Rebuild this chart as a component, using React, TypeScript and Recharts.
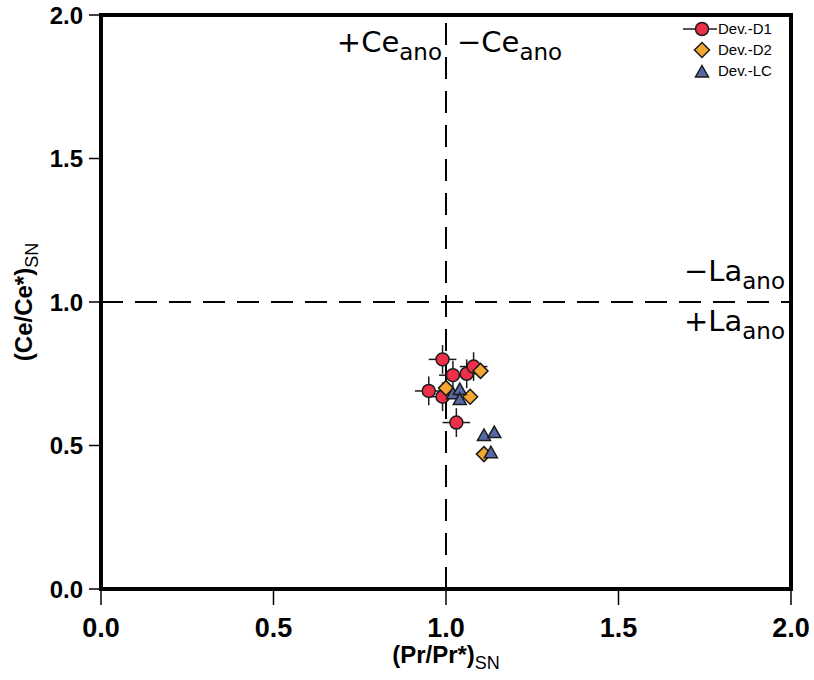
import React from 'react';
import {
  ScatterChart,
  Scatter,
  XAxis,
  YAxis,
  ReferenceLine,
  ReferenceArea,
  ReferenceDot,
  ErrorBar,
} from 'recharts';

// Dev.-D1 (with error bars)
const D1_PR = [0.99, 1.02, 1.06, 1.08, 0.95, 0.99, 1.03];
const D1_CE = [0.8, 0.745, 0.75, 0.775, 0.69, 0.67, 0.58];
const D1_PR_ERR = [0.04, 0.04, 0.04, 0.04, 0.04, 0.04, 0.04];
const D1_CE_ERR = [0.05, 0.05, 0.05, 0.05, 0.05, 0.05, 0.05];

// Dev.-D2
const D2_PR = [1.1, 1.0, 1.07, 1.11];
const D2_CE = [0.76, 0.7, 0.67, 0.47];

// Dev.-LC
const LC_PR = [1.02, 1.04, 1.04, 1.11, 1.14, 1.13];
const LC_CE = [0.68, 0.695, 0.66, 0.535, 0.545, 0.475];

const TICKS = [0, 0.5, 1, 1.5, 2];
const CE_LABEL_Y = 1.87;

const RED = '#EE2F48';
const ORANGE = '#F5A630';
const BLUE = '#5668A6';
const EDGE = '#1c1c1c';

const AXIS_FONT = "'Liberation Sans', Arial, sans-serif";
const NOTE_FONT = "'DejaVu Sans', sans-serif";

const d1 = D1_PR.map((x, i) => ({ x, y: D1_CE[i], ex: D1_PR_ERR[i], ey: D1_CE_ERR[i] }));
const d2 = D2_PR.map((x, i) => ({ x, y: D2_CE[i] }));
const lc = LC_PR.map((x, i) => ({ x, y: LC_CE[i] }));

const Circle = (p: any) => (
  <circle cx={p.cx} cy={p.cy} r={6.5} fill={RED} stroke={EDGE} strokeWidth={1.5} />
);
const Diamond = (p: any) => (
  <polygon
    points={`${p.cx},${p.cy - 7.5} ${p.cx + 7.5},${p.cy} ${p.cx},${p.cy + 7.5} ${p.cx - 7.5},${p.cy}`}
    fill={ORANGE}
    stroke={EDGE}
    strokeWidth={1.5}
  />
);
const Triangle = (p: any) => (
  <polygon
    points={`${p.cx},${p.cy - 6.5} ${p.cx + 6.5},${p.cy + 5} ${p.cx - 6.5},${p.cy + 5}`}
    fill={BLUE}
    stroke={EDGE}
    strokeWidth={1.5}
  />
);

const Sub = ({ main, sub, x, y, anchor }: { main: string; sub: string; x: number; y: number; anchor: string }) => (
  <text x={x} y={y} textAnchor={anchor} fontFamily={NOTE_FONT} fill="#000">
    <tspan fontSize={29}>{main}</tspan>
    <tspan fontSize={23} dy={8}>{sub}</tspan>
  </text>
);

const CeNotes = (p: any) => (
  <g>
    <Sub main="+Ce" sub="ano" x={p.cx - 4} y={p.cy} anchor="end" />
    <Sub main="−Ce" sub="ano" x={p.cx + 11} y={p.cy} anchor="start" />
  </g>
);

const LaNotes = (p: any) => (
  <g>
    <Sub main="−La" sub="ano" x={p.cx - 6} y={p.cy - 21} anchor="end" />
    <Sub main="+La" sub="ano" x={p.cx - 6} y={p.cy + 29} anchor="end" />
  </g>
);

const XTitle = (props: any) => {
  const vb = props.viewBox;
  return (
    <text x={vb.x + vb.width / 2} y={vb.y + 74} textAnchor="middle" fontFamily={AXIS_FONT} fill="#000">
      <tspan fontSize={24} fontWeight="bold">(Pr/Pr*)</tspan>
      <tspan fontSize={18} dy={6}>SN</tspan>
    </text>
  );
};

const YTitle = (props: any) => {
  const vb = props.viewBox;
  const cx = 32;
  const cy = vb.y + vb.height / 2;
  return (
    <text x={cx} y={cy} textAnchor="middle" fontFamily={AXIS_FONT} fill="#000" transform={`rotate(-90 ${cx} ${cy})`}>
      <tspan fontSize={24} fontWeight="bold">(Ce/Ce*)</tspan>
      <tspan fontSize={18} dy={6}>SN</tspan>
    </text>
  );
};

const legendItems = [
  { name: 'Dev.-D1', kind: 'circle' },
  { name: 'Dev.-D2', kind: 'diamond' },
  { name: 'Dev.-LC', kind: 'triangle' },
];

function LegendBox() {
  return (
    <div style={{ position: 'absolute', left: 682, top: 18, fontFamily: AXIS_FONT, fontSize: 15 }}>
      {legendItems.map((it) => (
        <div key={it.name} style={{ display: 'flex', alignItems: 'center', height: 21 }}>
          <svg width={36} height={18}>
            {it.kind === 'circle' && (
              <g>
                <line x1={1} y1={9} x2={35} y2={9} stroke={EDGE} strokeWidth={1.5} />
                <Circle cx={20} cy={9} />
              </g>
            )}
            {it.kind === 'diamond' && <Diamond cx={20} cy={9} />}
            {it.kind === 'triangle' && <Triangle cx={20} cy={10} />}
          </svg>
          <span style={{ color: '#000' }}>{it.name}</span>
        </div>
      ))}
    </div>
  );
}

export default function App() {
  return (
    <div style={{ position: 'absolute', left: 0, top: 0, width: 814, height: 680, background: '#fff' }}>
      <ScatterChart width={814} height={680} margin={{ top: 15, right: 23, bottom: 0, left: 0 }}>
        <XAxis
          type="number"
          dataKey="x"
          domain={[0, 2]}
          ticks={TICKS}
          tickFormatter={(v: number) => v.toFixed(1)}
          height={91}
          axisLine={false}
          tickSize={16}
          tickMargin={13}
          tickLine={{ stroke: '#000', strokeWidth: 1.5 }}
          tick={{ fontSize: 27, fontWeight: 'bold', fill: '#000', fontFamily: AXIS_FONT }}
          label={{ content: XTitle }}
        />
        <YAxis
          type="number"
          dataKey="y"
          domain={[0, 2]}
          ticks={TICKS}
          tickFormatter={(v: number) => v.toFixed(1)}
          width={101}
          axisLine={false}
          tickSize={12}
          tickMargin={6}
          tickLine={{ stroke: '#000', strokeWidth: 1.5 }}
          tick={{ fontSize: 24, fontWeight: 'bold', fill: '#000', fontFamily: AXIS_FONT }}
          label={{ content: YTitle }}
        />
        <ReferenceLine x={1} stroke="#000" strokeWidth={2} strokeDasharray="22 12" />
        <ReferenceLine y={1} stroke="#000" strokeWidth={2} strokeDasharray="22 12" />
        <ReferenceDot x={1} y={CE_LABEL_Y} r={0} shape={CeNotes} />
        <ReferenceDot x={2} y={1} r={0} shape={LaNotes} ifOverflow="visible" />
        <Scatter name="Dev.-D1" data={d1} shape={Circle} isAnimationActive={false}>
          <ErrorBar dataKey="ex" direction="x" width={0} stroke={EDGE} strokeWidth={1.5} />
          <ErrorBar dataKey="ey" direction="y" width={0} stroke={EDGE} strokeWidth={1.5} />
        </Scatter>
        <Scatter name="Dev.-D2" data={d2} shape={Diamond} isAnimationActive={false} />
        <Scatter name="Dev.-LC" data={lc} shape={Triangle} isAnimationActive={false} />
        <ReferenceArea x1={0} x2={2} y1={0} y2={2} fill="none" fillOpacity={0} stroke="#000" strokeWidth={4} ifOverflow="visible" />
      </ScatterChart>
      <LegendBox />
    </div>
  );
}
